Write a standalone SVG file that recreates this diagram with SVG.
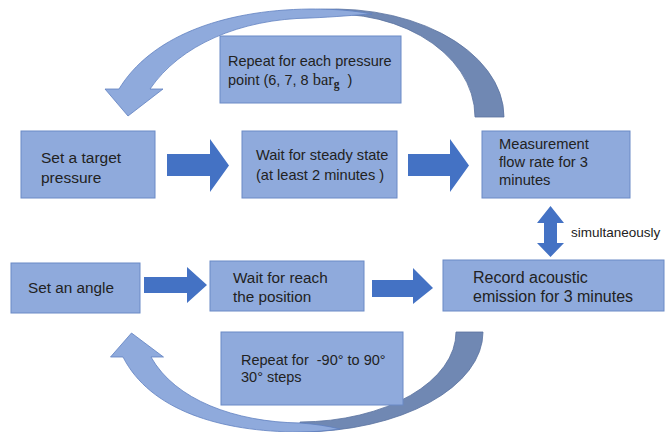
<svg xmlns="http://www.w3.org/2000/svg" width="669" height="432" viewBox="0 0 669 432">
<style>
.box{fill:#8FAADC;stroke:#6A8AC6;stroke-width:1}
.t{font-family:"Liberation Sans",Arial,sans-serif;font-size:15px;fill:#222}
.blk{fill:#4472C4}
.lt{fill:#8FAADC;stroke:#5F80C0;stroke-width:0.8}
.dk{fill:#7088B3;stroke:#5A72A0;stroke-width:0.8}
</style>
<rect width="669" height="432" fill="#fff"/>
<g id="connectors">
  <path class="dk" d="M300,11.2 A170,108 0 0 1 504,117 L475,117 A141,103 0 0 0 300,17 Z"/>
  <path class="lt" d="M119,89 L105,89 L128,116 L163,89 L150,89 C180,45 240,19 310,18 C335,17 355,15 372,14 C355,11 340,9 310,9 C220,10 150,38 119,89 Z"/>
  <path class="dk" d="M483,332 A184,100 0 0 1 300,432 L300,422 A157,90 0 0 0 456,332 Z"/>
  <path class="lt" d="M123,357 L110.5,357 L131.5,333 L163.5,357 L151,357 C175,400 235,422 300,423 C315,424 328,426 340,429 C325,431 312,432 300,432 C220,432 150,410 123,357 Z"/>
  <path class="blk" d="M167,154 L210,154 L210,139 L229,165.5 L210,192 L210,176 L167,176 Z"/>
  <path class="blk" d="M408,154 L450,154 L450,139 L469,165.5 L450,192 L450,176 L408,176 Z"/>
  <path class="blk" d="M144,277 L187,277 L187,267 L207,285 L187,303 L187,293 L144,293 Z"/>
  <path class="blk" d="M372,280 L413,280 L413,268 L433,288 L413,304 L413,297 L372,297 Z"/>
  <path class="blk" d="M550.5,206 L564,223 L557,223 L557,243 L564,243 L550.5,257 L537,243 L544,243 L544,223 L537,223 Z"/>
  <text class="t" x="571" y="237" style="font-size:13.5px">simultaneously</text>
</g>
<g id="n1">
  <rect class="box" x="21" y="131" width="134" height="67"/>
  <text class="t" style="font-size:15.5px"><tspan x="41" y="163">Set a target</tspan><tspan x="41" y="183">pressure</tspan></text>
</g>
<g id="n2">
  <rect class="box" x="242" y="131" width="155" height="67"/>
  <text class="t" style="font-size:14.6px"><tspan x="256" y="160">Wait for steady state</tspan><tspan x="256" y="180">(at least 2 minutes )</tspan></text>
</g>
<g id="n3">
  <rect class="box" x="482" y="131" width="148" height="67"/>
  <text class="t" style="font-size:14.7px"><tspan x="499" y="149">Measurement</tspan><tspan x="499" y="167">flow rate for 3</tspan><tspan x="499" y="185">minutes</tspan></text>
</g>
<g id="n4">
  <rect class="box" x="11" y="263" width="129" height="50"/>
  <text class="t" x="28" y="293" style="font-size:15.3px">Set an angle</text>
</g>
<g id="n5">
  <rect class="box" x="210" y="261" width="154" height="50"/>
  <text class="t" style="font-size:15.3px"><tspan x="233" y="283">Wait for reach</tspan><tspan x="233" y="302">the position</tspan></text>
</g>
<g id="n6">
  <rect class="box" x="443" y="260" width="221" height="51"/>
  <text class="t" style="font-size:16px"><tspan x="473" y="283">Record acoustic</tspan><tspan x="473" y="302">emission for 3 minutes</tspan></text>
</g>
<g id="note1">
  <rect class="box" x="220" y="36" width="181" height="67"/>
  <text class="t" style="font-size:14.5px"><tspan x="228" y="85">point (6, 7, 8 </tspan><tspan style="font-family:'Liberation Serif',serif;font-size:16.5px">bar</tspan><tspan style="font-family:'Liberation Serif',serif;font-size:11.5px;font-weight:bold" dy="3">g</tspan><tspan dy="-3"> &#160;)</tspan><tspan x="228" y="66">Repeat for each pressure</tspan></text>
</g>
<g id="note2">
  <rect class="box" x="221" y="332" width="182" height="73"/>
  <text class="t" style="font-size:14.5px"><tspan x="241" y="365">Repeat for &#160;-90° to 90°</tspan><tspan x="241" y="382">30° steps</tspan></text>
</g>
</svg>
